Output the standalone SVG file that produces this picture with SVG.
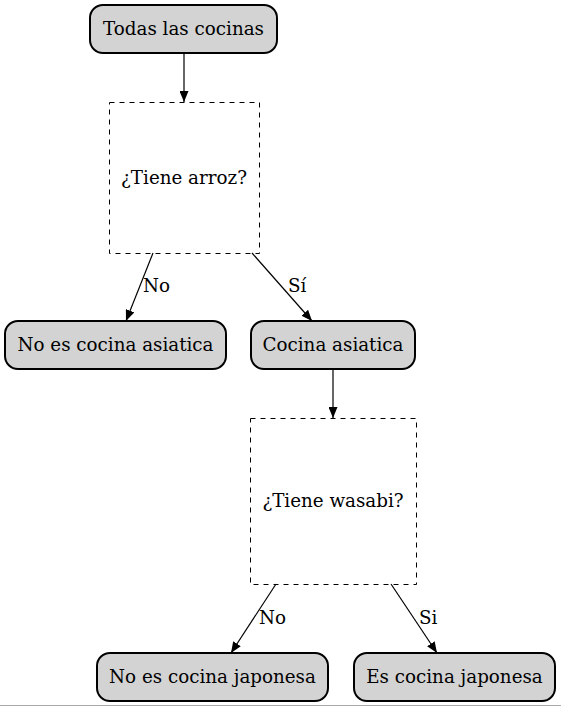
<svg xmlns="http://www.w3.org/2000/svg" width="561" height="707" viewBox="0 0 561 707">
<defs>
<marker id="ah" markerWidth="11" markerHeight="9" refX="11" refY="4.5" orient="auto" markerUnits="userSpaceOnUse">
<path d="M0,0 L11,4.5 L0,9 Z" fill="#000"/>
</marker>
<style>
.n rect{fill:#d3d3d3;stroke:#000;stroke-width:2}
.d rect{fill:none;stroke:#000;stroke-width:1;stroke-dasharray:5,5}
text{font-family:"DejaVu Serif",serif;font-size:18.3px;fill:#000}
.n text,.d text{text-anchor:middle}
.e line{stroke:#000;stroke-width:1.2;marker-end:url(#ah)}
</style>
</defs>
<rect x="0" y="0" width="561" height="707" fill="#fff"/>
<g id="todas" class="n"><rect x="90" y="5" width="187" height="48" rx="13"/><text x="183.5" y="34.5">Todas las cocinas</text></g>
<g id="arroz" class="d"><rect x="109.5" y="102.5" width="150" height="151"/><text x="184" y="183.5">¿Tiene arroz?</text></g>
<g id="noasiatica" class="n"><rect x="5" y="321" width="221" height="48" rx="13"/><text x="115.5" y="350.5">No es cocina asiatica</text></g>
<g id="asiatica" class="n"><rect x="251" y="321" width="164" height="48" rx="13"/><text x="333" y="350.5">Cocina asiatica</text></g>
<g id="wasabi" class="d"><rect x="250.5" y="418.5" width="166" height="166"/><text x="333" y="506.5">¿Tiene wasabi?</text></g>
<g id="nojaponesa" class="n"><rect x="97" y="653" width="231" height="48" rx="13"/><text x="212.5" y="682.5">No es cocina japonesa</text></g>
<g id="japonesa" class="n"><rect x="354" y="653" width="201" height="48" rx="13"/><text x="454.5" y="682.5">Es cocina japonesa</text></g>
<g id="edges" class="e">
<line x1="184" y1="53" x2="184" y2="102"/>
<line x1="153" y1="253" x2="126" y2="321"/>
<line x1="252" y1="253" x2="312" y2="321"/>
<line x1="333" y1="369" x2="333" y2="418"/>
<line x1="276" y1="584" x2="231" y2="653"/>
<line x1="391" y1="584" x2="437" y2="653"/>
<text x="143" y="291.5">No</text>
<text x="288" y="291.5">Sí</text>
<text x="259" y="623.5">No</text>
<text x="419" y="623.5">Si</text>
</g>
<line x1="0" y1="705.5" x2="561" y2="705.5" stroke="#aaa" stroke-width="1"/>
</svg>
